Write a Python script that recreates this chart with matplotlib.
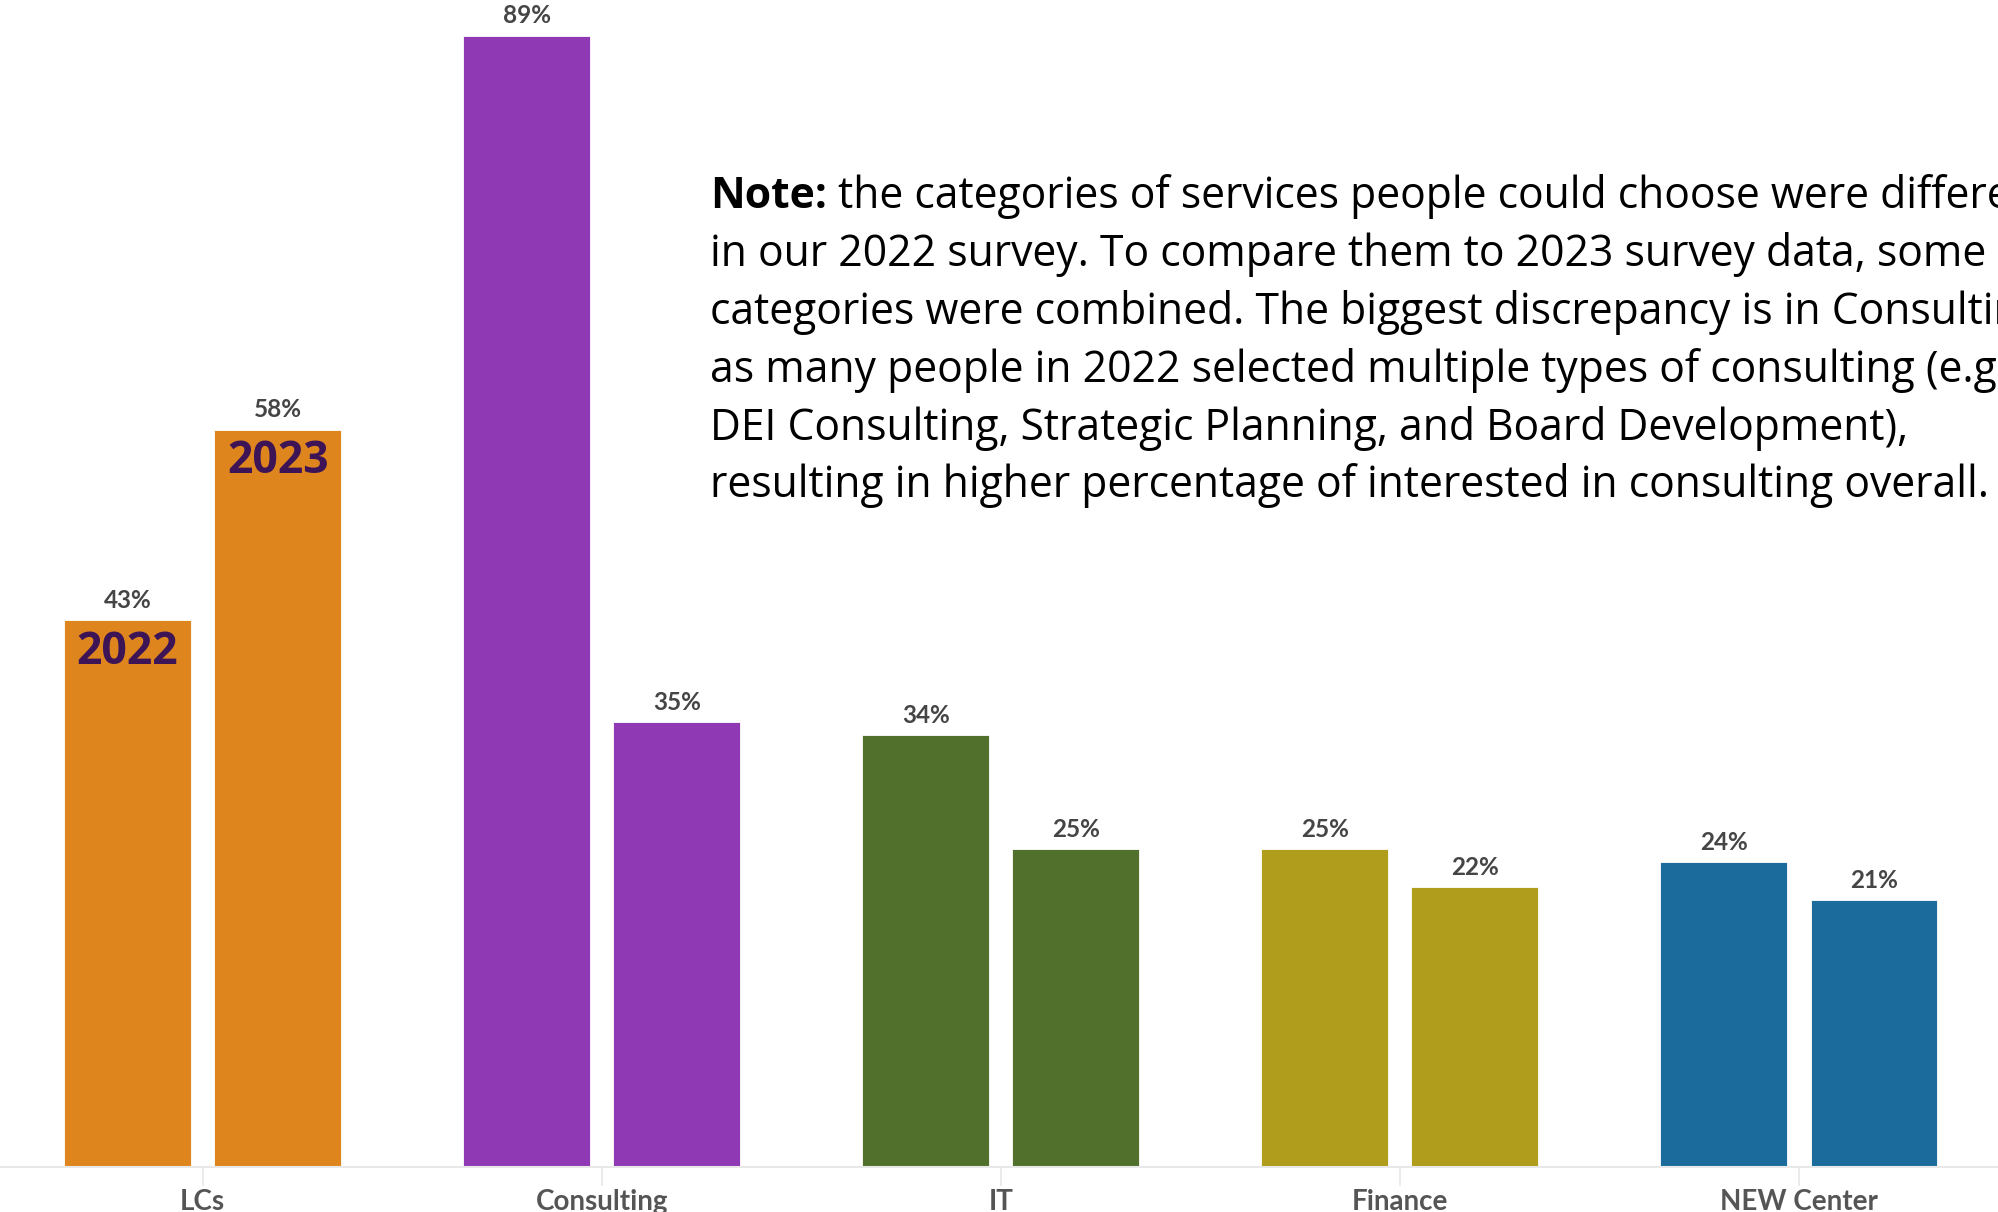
import numpy as np
import matplotlib.pyplot as plt

# share of respondents interested in each service, by survey year
categories = ["LCs", "Consulting", "IT", "Finance", "NEW Center"]
pct_2022 = [43, 89, 34, 25, 24]
pct_2023 = [58, 35, 25, 22, 21]
colors = ["#DE861D", "#9039B4", "#50702C", "#B09D1B", "#1B6B9C"]

note_bold = "Note:"
note_lines = [" the categories of services people could choose were different",
              "in our 2022 survey. To compare them to 2023 survey data, some",
              "categories were combined. The biggest discrepancy is in Consulting,",
              "as many people in 2022 selected multiple types of consulting (e.g.",
              "DEI Consulting, Strategic Planning, and Board Development),",
              "resulting in higher percentage of interested in consulting overall."]

W, H = 1998, 1212
fig = plt.figure(figsize=(W / 100, H / 100), dpi=100)
ax = fig.add_axes([0, 45 / H, 1, 1167 / H])

x = np.arange(len(categories))
w = 0.318
off = 0.188

for i in x:
    for xx, v in ((i - off, pct_2022[i]), (i + off, pct_2023[i])):
        ax.bar(xx, v, width=w, color=colors[i], edgecolor="white", linewidth=0.6, zorder=2)
        ax.text(xx, v + 1.55, f"{v}%", ha="center", va="center", fontsize=17.5,
                fontweight="bold", color="#454545", family="Lato")

# year markers inside the first pair of bars
ax.text(0 - off, pct_2022[0] - 2.5, "2022", ha="center", va="center", fontsize=32,
        fontweight="bold", color="#3D1456", family="Open Sans")
ax.text(0 + off, pct_2023[0] - 2.5, "2023", ha="center", va="center", fontsize=32,
        fontweight="bold", color="#3D1456", family="Open Sans")

ax.set_xlim(-0.5077, 4.4987)
ax.set_ylim(0, 91.8)
ax.set_yticks([])
ax.set_xticks(x)
ax.set_xticklabels(categories, fontsize=20, fontweight="bold", color="#555555", family="Lato")
ax.tick_params(axis="x", length=14, width=1.2, color="#e8e8e8", pad=2)
for s in ["top", "right", "left"]:
    ax.spines[s].set_visible(False)
ax.spines["bottom"].set_color("#e8e8e8")
ax.spines["bottom"].set_linewidth(1.5)

# note block, bold lead-in followed by regular text, one baseline per line
x0 = 710
base0 = 208
step = 57.9
fs = 30.7
t = fig.text(x0 / W, 1 - base0 / H, note_bold, fontsize=fs, fontweight="bold",
             family="Open Sans", color="black", va="baseline")
fig.canvas.draw()
bb = t.get_window_extent()
for k, line in enumerate(note_lines):
    xs = bb.x1 / W if k == 0 else x0 / W
    fig.text(xs, 1 - (base0 + k * step) / H, line, fontsize=fs, family="Open Sans",
             color="black", va="baseline")

fig.savefig("out.png", dpi=100)
